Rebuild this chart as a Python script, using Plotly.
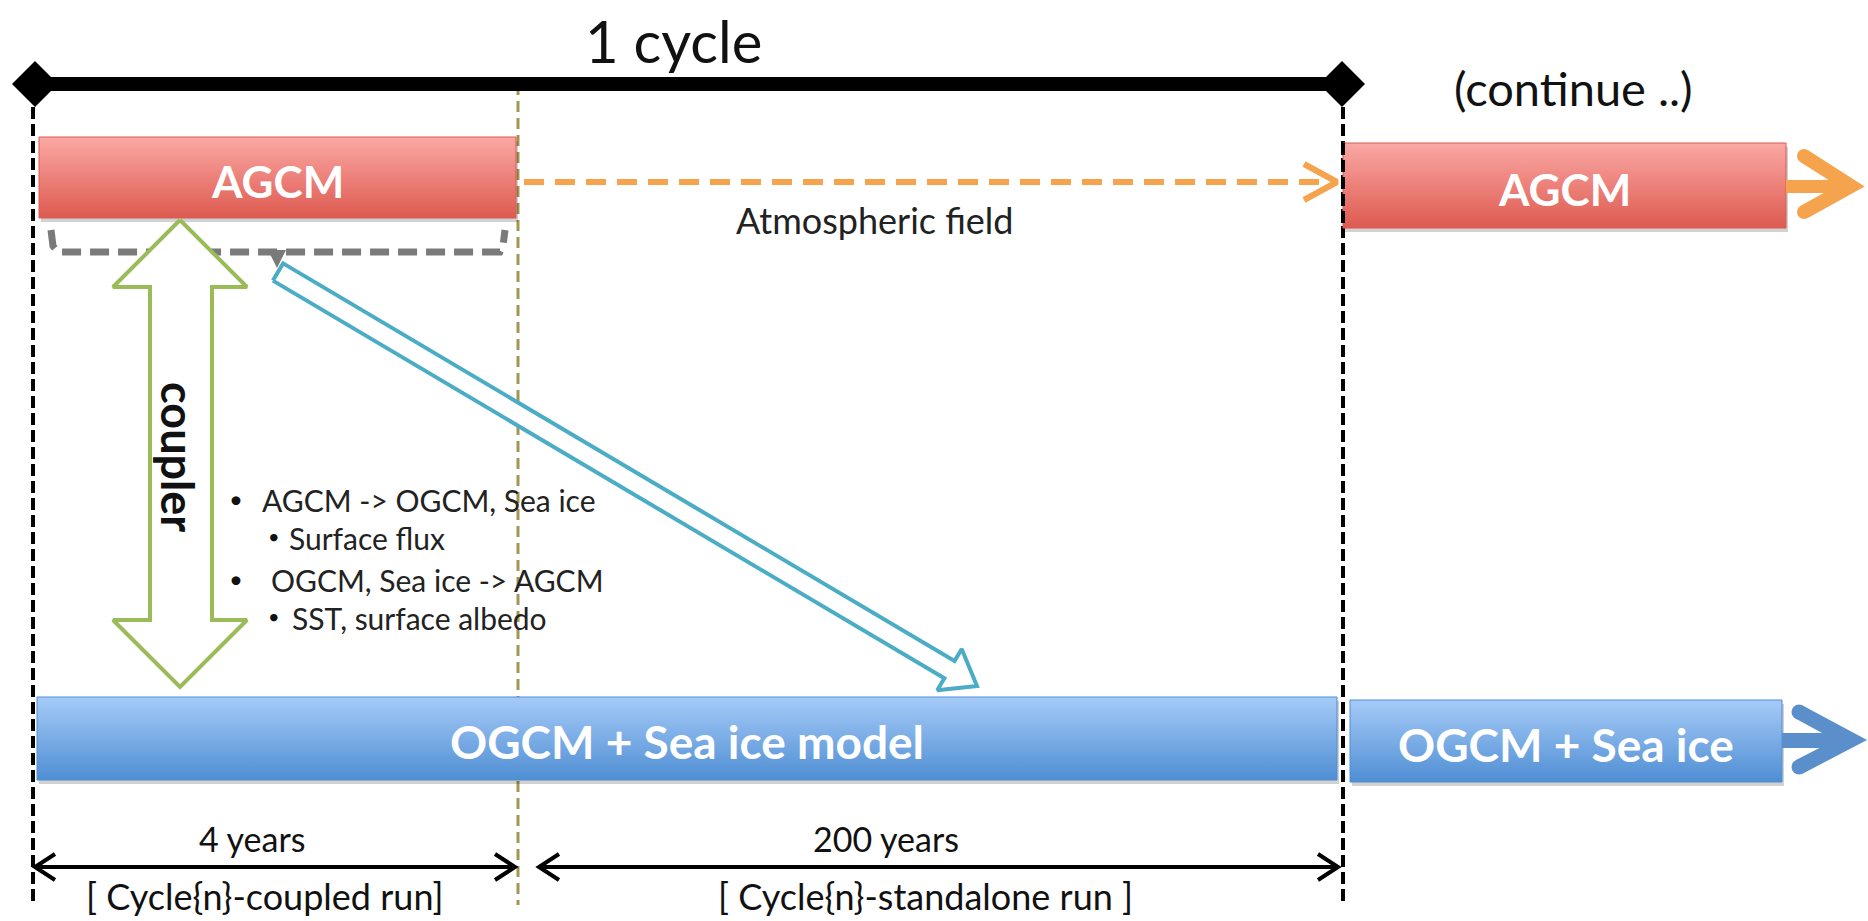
import numpy as np
import plotly.graph_objects as go

# ---------------- content ----------------
title_text = "1 cycle"
continue_text = "(continue ..)"
box_labels = ["AGCM", "AGCM", "OGCM + Sea ice model", "OGCM + Sea ice"]
field_text = "Atmospheric field"
coupler_text = "coupler"
bullet_texts = ["AGCM -> OGCM, Sea ice", "Surface flux", "OGCM, Sea ice -> AGCM", "SST, surface albedo"]
bullet_levels = [0, 1, 0, 1]
span_labels = ["4 years", "200 years"]
run_labels = ["[ Cycle{n}-coupled run]", "[ Cycle{n}-standalone run ]"]

# ---------------- geometry (pixel canvas) ----------------
W, H = 1868, 921
FONT = "Lato, 'Open Sans', sans-serif"

# boxes: x0, x1, y0, y1
boxes = [(39, 516, 137, 218), (1343, 1786, 143, 228), (37, 1337, 697, 780), (1350, 1782, 700, 782)]
box_cols = [("#FBA8A4", "#DD5A50"), ("#FBA8A4", "#DD5A50"), ("#A6CBF8", "#4F8ED3"), ("#A6CBF8", "#4F8ED3")]
box_fs = [44, 44, 46, 46]

fig = go.Figure()


def line(xs, ys, color, width, dash="solid"):
    fig.add_trace(go.Scatter(x=xs, y=ys, mode="lines", hoverinfo="skip",
                             line=dict(color=color, width=width, dash=dash)))


def poly(xs, ys, fill, lc=None, lw=0):
    fig.add_trace(go.Scatter(x=list(xs) + [xs[0]], y=list(ys) + [ys[0]], mode="lines",
                             fill="toself", fillcolor=fill, hoverinfo="skip",
                             line=dict(color=lc if lc else fill, width=lw)))


def text(x, y, s, size, color="#111111", bold=False, angle=0, xanchor="center"):
    fig.add_annotation(x=x, y=y, text=s, showarrow=False, xref="x", yref="y",
                       xanchor=xanchor, yanchor="middle", textangle=angle,
                       font=dict(family=FONT, size=size, color=color,
                                 weight="bold" if bold else "normal"))


def _isect(p1, d1, p2, d2):
    m = np.array([[d1[0], -d2[0]], [d1[1], -d2[1]]])
    s = np.linalg.solve(m, p2 - p1)
    return p1 + s[0] * d1


def chevron(A, P, B, t, color):
    A, P, B = map(lambda v: np.array(v, float), (A, P, B))
    d1 = (P - A) / np.linalg.norm(P - A)
    d2 = (B - P) / np.linalg.norm(B - P)
    n1 = np.array([-d1[1], d1[0]])
    n2 = np.array([-d2[1], d2[0]])
    mp = _isect(A + t * n1, d1, P + t * n2, d2)
    mm = _isect(A - t * n1, d1, P - t * n2, d2)
    pts = [A + t * n1, mp, B + t * n2, B - t * n2, mm, A - t * n1]
    poly([p[0] for p in pts], [p[1] for p in pts], color)
    fig.add_trace(go.Scatter(x=[A[0], B[0]], y=[A[1], B[1]], mode="markers", hoverinfo="skip",
                             marker=dict(size=2 * t, color=color, line=dict(width=0))))


# vertical dashed guides (under boxes)
line([518, 518], [84, 905], "#A39552", 3, "11px,6px")
line([33, 33], [107, 905], "#000000", 4, "12px,5px")
line([1343, 1343], [107, 905], "#000000", 4, "12px,5px")

# boxes with gradient + soft shadow
for (x0, x1, y0, y1), (ct, cb), lab, fs in zip(boxes, box_cols, box_labels, box_fs):
    poly([x0 + 2, x1 + 2, x1 + 2, x0 + 2], [y0 + 4, y0 + 4, y1 + 4, y1 + 4], "rgba(0,0,0,0.18)")
    fig.add_trace(go.Scatter(x=[x0, x1, x1, x0, x0], y=[y0, y0, y1, y1, y0], mode="lines",
                             fill="toself", hoverinfo="skip",
                             fillgradient=dict(type="vertical", colorscale=[[0, ct], [1, cb]],
                                               start=y0, stop=y1),
                             line=dict(color=cb, width=1)))
    text((x0 + x1) / 2, (y0 + y1) / 2 + 3, lab, fs, color="white", bold=True)

# the right dashed line drawn over the box edges
line([1343, 1343], [143, 228], "#000000", 4, "12px,5px")

# top timeline with diamonds
line([35, 1342], [84, 84], "#000000", 14)
for cx in (35, 1342):
    poly([cx - 23, cx, cx + 23, cx], [84, 61, 84, 107], "#000000")
text(673, 40, title_text, 58, color="#111111")
text(1573, 88, continue_text, 47, color="#111111")

# orange dashed arrow (Atmospheric field)
line([524, 1330], [182, 182], "#F6A34E", 6, "20px,11px")
line([1304, 1337, 1304], [164, 182, 200], "#F6A34E", 6)
text(875, 220, field_text, 36, color="#222222")

# orange continuation arrow
poly([1786, 1840, 1840, 1786], [180, 180, 193, 193], "#F6A34E")
chevron((1804, 156), (1851, 186), (1804, 212), 7, "#F6A34E")

# blue continuation arrow
poly([1782, 1840, 1840, 1782], [733, 733, 748, 748], "#5A8FCB")
chevron((1799, 712), (1851, 740), (1799, 767), 7.5, "#5A8FCB")

# gray dashed bracket under AGCM
line([51, 53, 58, 500, 503, 505], [230, 246, 252, 252, 246, 230], "#7A7A7A", 7, "19px,9px")
poly([268, 286, 277], [250, 250, 268], "#7A7A7A")

# green hollow double arrow (coupler)
gx = [180, 247, 212, 212, 247, 180, 113, 150, 150, 113]
gy = [220, 287, 287, 620, 620, 687, 620, 620, 287, 287]
poly(gx, gy, "white", "#9BBB59", 4)
text(178, 457, coupler_text, 45, color="#111111", bold=True, angle=90)

# blue hollow diagonal arrow
T = np.array([278.0, 272.0])
P = np.array([977.0, 686.0])
u = (P - T) / np.linalg.norm(P - T)
n = np.array([-u[1], u[0]])
w, hw, hl = 10, 24, 32
B = P - hl * u
pts = [T + w * n, B + w * n, B + hw * n, P, B - hw * n, B - w * n, T - w * n]
poly([p[0] for p in pts], [p[1] for p in pts], "white", "#4BACC6", 4)

# bullet list
bul_y = [500, 538, 580, 618]
for s, lvl, y in zip(bullet_texts, bullet_levels, bul_y):
    bx = 236 if lvl == 0 else 274
    tx = 260 if lvl == 0 else 287
    if s.startswith("OGCM"):
        tx = 269
    if s.startswith("SST"):
        tx = 290
    text(bx, y - 2, "•", 24 if lvl == 0 else 20, color="#111111")
    text(tx, y, s, 30, color="#222222", xanchor="left")

# span arrows at bottom
span_x = [(33, 517), (537, 1340)]
label_x = [252, 886]
run_x = [264, 925]
for (x0, x1), lab, run, lx, rx in zip(span_x, span_labels, run_labels, label_x, run_x):
    line([x0 + 2, x1 - 2], [867, 867], "#000000", 4)
    line([x0 + 22, x0 + 2, x0 + 22], [854, 867, 880], "#000000", 4)
    line([x1 - 22, x1 - 2, x1 - 22], [854, 867, 880], "#000000", 4)
    text(lx, 838, lab, 34, color="#111111")
    text(rx, 896, run, 36, color="#111111")

fig.update_layout(
    width=W, height=H, margin=dict(l=0, r=0, t=0, b=0),
    paper_bgcolor="white", plot_bgcolor="white", showlegend=False,
    xaxis=dict(range=[0, W], visible=False, fixedrange=True),
    yaxis=dict(range=[H, 0], visible=False, fixedrange=True),
)

fig.write_html("out.html", config={"displayModeBar": False},
               post_script="document.body.style.margin='0';document.body.style.overflow='hidden';")
